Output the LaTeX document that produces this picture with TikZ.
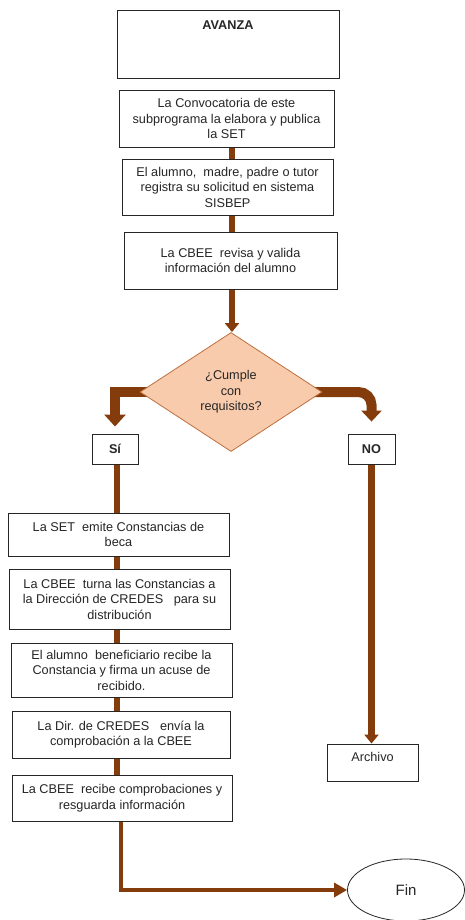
\documentclass[tikz,border=0pt]{standalone}
\usepackage{fontspec}
\setmainfont{Liberation Sans}
\usetikzlibrary{arrows.meta,shapes.geometric}
\definecolor{brn}{RGB}{132,60,12}
\definecolor{dfill}{RGB}{248,203,173}
\definecolor{dline}{RGB}{190,110,60}
\pgfdeclarelayer{bg}
\pgfsetlayers{bg,main}
\begin{document}
\begin{tikzpicture}[x=1pt,y=-1pt,
  txt/.style={font=\fontsize{12.7}{15.5}\selectfont, align=center, text=black!85},
  box/.style={txt, draw=black!85, line width=0.9pt, fill=white, inner sep=0pt},
  lbl/.style={txt, font=\fontsize{12.7}{15.5}\selectfont\bfseries},
  conn/.style={draw=brn, line width=6.5pt},
  branch/.style={draw=brn, line width=10pt},
  thinconn/.style={draw=brn, line width=4pt}
]
\useasboundingbox (0,0) rectangle (465,920);
% top column
\node[box, minimum width=222pt, minimum height=68pt] (b1) at (228,44) {};
\node[lbl] (t1) at (228,25) {AVANZA};
\node[box, minimum width=215pt, minimum height=57pt] (b2) at (226.5,118.5) {La Convocatoria de este\\subprograma la elabora y publica\\la SET};
\node[box, minimum width=211pt, minimum height=56pt] (b3) at (227.5,187) {El alumno,\ \ madre, padre o tutor\\registra su solicitud en sistema\\SISBEP};
\node[box, minimum width=213pt, minimum height=57pt] (b4) at (230.5,260.5) {La CBEE\ \ revisa y valida\\información del alumno};
\node[txt, diamond, draw=dline, line width=0.8pt, fill=dfill, inner sep=0pt, minimum width=182pt, minimum height=119pt] (dia) at (231,392) {¿Cumple\\con\\requisitos?};
\node[box, lbl, minimum width=46pt, minimum height=30pt] (si) at (115,449) {Sí};
\node[box, lbl, minimum width=47pt, minimum height=30pt] (no) at (371.5,449) {NO};
% left column
\node[box, minimum width=221pt, minimum height=43pt] (bA) at (118.5,534.5) {La SET\ \ emite\ Constancias de\\beca};
\node[box, minimum width=221pt, minimum height=60pt] (bB) at (119.5,599) {La CBEE\ \ turna las Constancias a\\la Dirección de CREDES\ \ \ para su\\distribución};
\node[box, minimum width=221pt, minimum height=54pt] (bC) at (121.5,670) {El alumno\ \ beneficiario recibe la\\Constancia y firma un acuse de\\recibido.};
\node[box, minimum width=218pt, minimum height=47pt] (bD) at (121,734.5) {La Dir. de CREDES\ \ \ envía la\\comprobación a la CBEE};
\node[box, minimum width=220pt, minimum height=46pt] (bE) at (122,798) {La CBEE\ \ recibe comprobaciones y\\resguarda información};
\node[box, minimum width=91pt, minimum height=37pt, text height=9pt, text depth=11pt] (arch) at (372.5,762.5) {Archivo};
\node[txt, ellipse, draw=black!85, line width=0.8pt, fill=white, inner sep=0pt, minimum width=117pt, minimum height=62pt, font=\fontsize{15}{18}\selectfont] (fin) at (406,890) {Fin};
\coordinate (tc) at (232,0);
\coordinate (lc) at (117,0);
\coordinate (fx) at (121,0);
\begin{pgfonlayer}{bg}
\draw[conn] (b2.south -| tc) -- (b3.north -| tc);
\draw[conn] (b3.south -| tc) -- (b4.north -| tc);
\draw[conn, -{Triangle[width=14pt,length=9pt]}] (b4.south -| tc) -- (dia.north -| tc);
\draw[branch, -{Triangle[width=21pt,length=12pt]}] (dia.center) -| ([yshift=7pt]si.north);
\draw[branch, rounded corners=13pt, -{Triangle[width=20pt,length=11pt]}] (dia.center) -| ([yshift=12pt]no.north);
\draw[conn] (si.south -| lc) -- (bA.north -| lc);
\draw[conn] (bA.south -| lc) -- (bB.north -| lc);
\draw[conn] (bB.south -| lc) -- (bC.north -| lc);
\draw[conn] (bC.south -| lc) -- (bD.north -| lc);
\draw[conn] (bD.south -| lc) -- (bE.north -| lc);
\draw[thinconn, -{Triangle[width=14pt,length=13pt]}] (bE.south -| fx) |- (fin.west);
\draw[conn, -{Triangle[width=14pt,length=9pt]}] (no.south) -- (no.south |- arch.north);
\end{pgfonlayer}
\end{tikzpicture}
\end{document}
